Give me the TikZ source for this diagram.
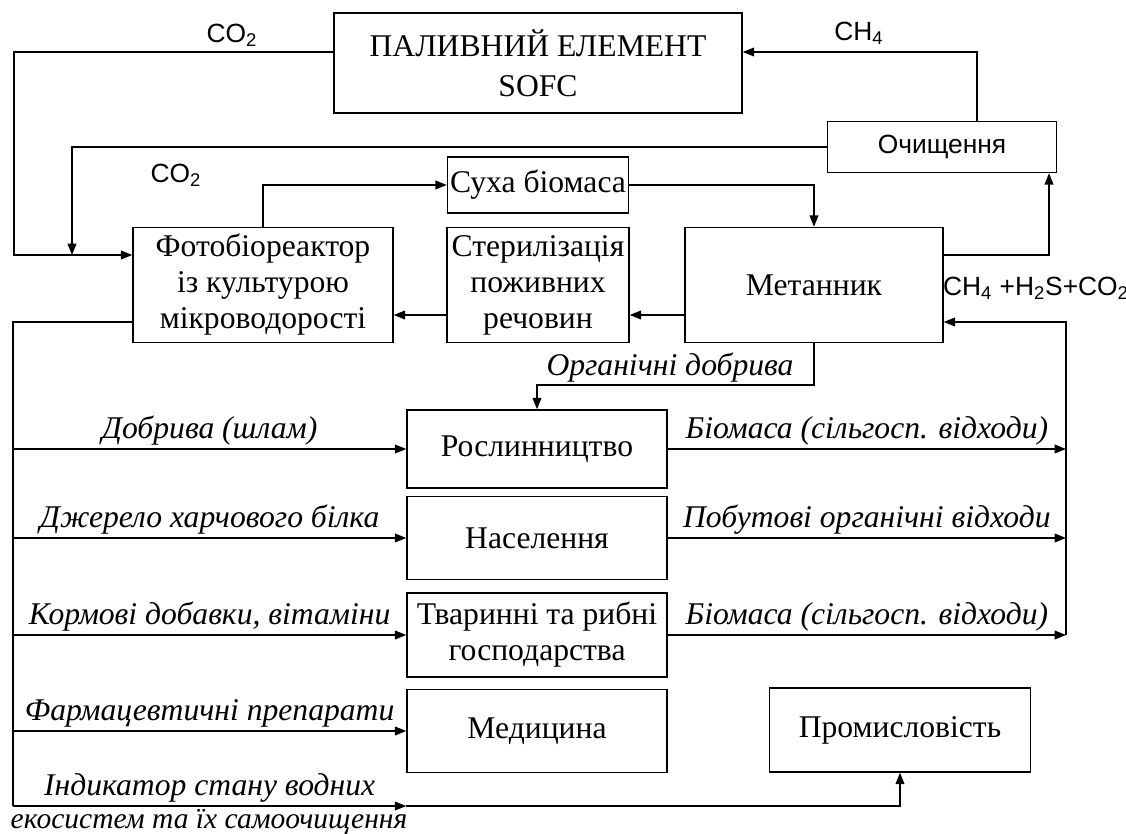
\documentclass[tikz,border=0pt]{standalone}
\usepackage{fontspec}
\setmainfont{Liberation Serif}
\newfontfamily\gasfont{Liberation Sans}
\usetikzlibrary{arrows.meta}

\begin{document}
\begin{tikzpicture}[x=0.02cm, y=-0.02cm, line width=0.8pt, >={Triangle[length=6.5pt,width=5pt]},
  blk/.style 2 args={draw, minimum width=#1*0.02cm, minimum height=#2*0.02cm, inner sep=0pt, align=center, font=\fontsize{18}{20.5}\selectfont},
  gas/.style={font=\gasfont\fontsize{15}{17}\selectfont, inner sep=0pt},
  lbl/.style={font=\fontsize{18}{20}\selectfont\itshape, inner sep=1.5pt}]
	\useasboundingbox (0,0) rectangle (1126,834);
	\node[blk={408}{100}, font=\fontsize{18}{23}\selectfont] (sofc) at (538,63) {ПАЛИВНИЙ ЕЛЕМЕНТ\\SOFC};
	\node[blk={229}{51}, font=\gasfont\fontsize{15}{17}\selectfont] (clean) at (942,147) {Очищення};
	\node[blk={260}{115}] (photo) at (263,285) {Фотобіореактор\\із культурою\\мікроводорості};
	\node[blk={181}{56}] (drybio) at (538,185) {Суха біомаса};
	\node[blk={182}{115}] (steril) at (538,285) {Стерилізація\\поживних\\речовин};
	\node[blk={258}{115}] (digester) at (814,285) {Метанник};
	\node[blk={260}{78}] (crops) at (537,449) {Рослинництво};
	\node[blk={260}{83}] (people) at (537,538) {Населення};
	\node[blk={260}{84}] (farms) at (537,635) {Тваринні та рибні\\господарства};
	\node[blk={260}{83}] (medic) at (537,731) {Медицина};
	\node[blk={261}{84}] (industry) at (900,730) {Промисловість};
	\coordinate (w1) at (14,52);
	\coordinate (w2) at (14,255);
	\coordinate (w3) at (72,147);
	\coordinate (w4) at (13,322);
	\coordinate (w5) at (13,806);
	\coordinate (e1) at (977,52);
	\coordinate (e2) at (1049,255);
	\coordinate (e3) at (1066,322);
	\coordinate (e4) at (1066,635);
	\coordinate (m1) at (600,315);
	\coordinate (m2) at (700,385);
	\draw[->] (sofc.west |- w1) -- (w1) -- (w2) -- (photo.west |- w2);
	\draw[->] (clean.north -| e1) -- (e1) -- (sofc.east |- e1);
	\draw[->] (clean.west) -- (w3) -- (w3 |- w2);
	\draw[->] (photo.north) |- (drybio.west);
	\draw[->] (drybio.east) -| (digester.north);
	\draw[->] (digester.east |- e2) -- (e2) -- (clean.south -| e2);
	\draw[->] (digester.west |- m1) -- (steril.east |- m1);
	\draw[->] (steril.west |- m1) -- (photo.east |- m1);
	\draw[->] (digester.south) |- (m2) -| (crops.north);
	\draw[->] (e4) -- (e3) -- (digester.east |- e3);
	\draw (photo.west |- w4) -- (w4) -- (w5);
	\draw[->] (w4 |- crops.west) -- node[lbl, above] {Добрива (шлам)} (crops.west);
	\draw[->] (w4 |- people.west) -- node[lbl, above] {Джерело харчового білка} (people.west);
	\draw[->] (w4 |- farms.west) -- node[lbl, above] {Кормові добавки, вітаміни} (farms.west);
	\draw[->] (w4 |- medic.west) -- node[lbl, above] {Фармацевтичні препарати} (medic.west);
	\draw[->] (w5) -- node[lbl, above] {Індикатор стану водних} (medic.west |- w5);
	\draw[->] (medic.west |- w5) -| (industry.south);
	\draw[->] (crops.east) -- node[lbl, above] {Біомаса (сільгосп. відходи)} (crops.east -| e3);
	\draw[->] (people.east) -- node[lbl, above] {Побутові органічні відходи} (people.east -| e3);
	\draw[->] (farms.east) -- node[lbl, above] {Біомаса (сільгосп. відходи)} (farms.east -| e3);
	\node[gas] (co2top) at (232,35) {CO\textsubscript{2}};
	\node[gas] (co2mid) at (176,175) {CO\textsubscript{2}};
	\node[gas] (ch4) at (859,33) {CH\textsubscript{4}};
	\node[gas] (biogas) at (1036,288) {CH\textsubscript{4} +H\textsubscript{2}S+CO\textsubscript{2}};
	\node[lbl] (orgfert) at (670,368) {Органічні добрива};
	\node[lbl, font=\fontsize{16.8}{18}\selectfont\itshape] (ecosys) at (209,822) {екосистем та їх самоочищення};
\end{tikzpicture}
\end{document}
